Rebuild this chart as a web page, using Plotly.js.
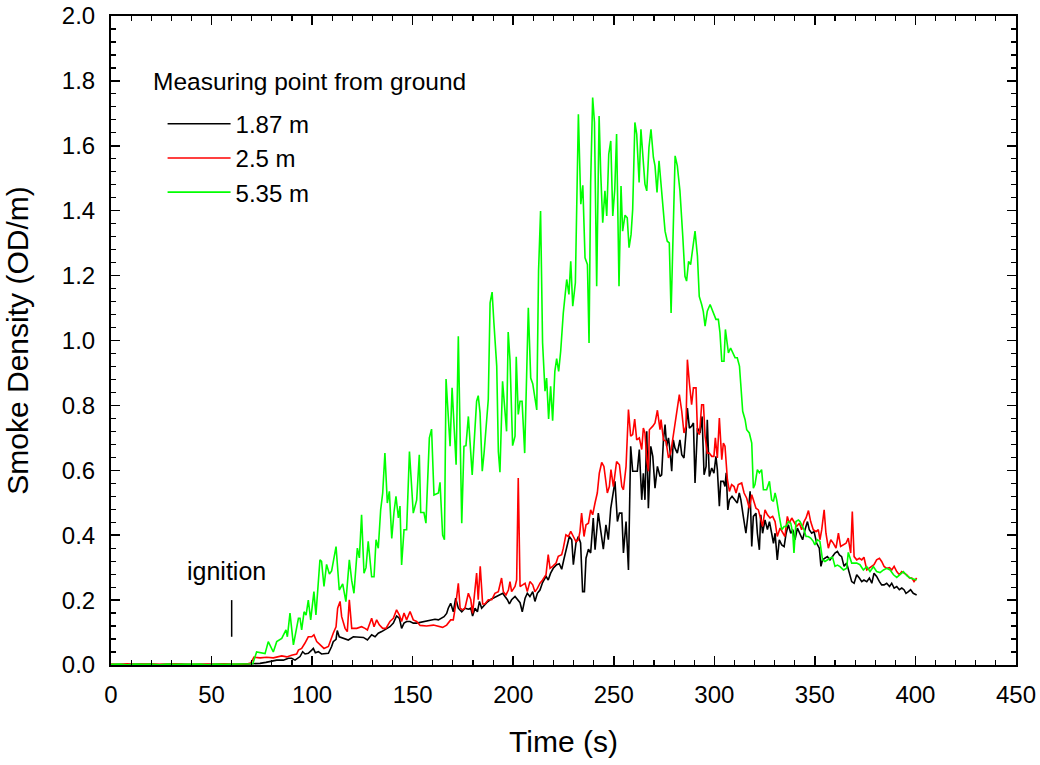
<!DOCTYPE html>
<html>
<head>
<meta charset="utf-8">
<script src="https://cdn.plot.ly/plotly-3.0.1.min.js"></script>
<style>html,body{margin:0;padding:0;background:#fff;}#chart{width:1040px;height:765px;}</style>
</head>
<body>
<div id="chart"></div>
<script>
// Series names
const seriesNames = ["1.87 m", "2.5 m", "5.35 m"];

// 1.87 m (black)
const t187 = [0,5,10,15,20,25,30,35,40,45,50,55,60,65,69.1,72,74.1,77,79.0,82.4,85.7,88.2,89.8,91.5,94.0,95.3,96.5,98.1,99.8,100.6,101.6,103.1,104.7,106.4,108.1,109.7,110.5,111.9,112.5,113.5,115.5,118.0,120.5,123.0,125.5,127.5,129.6,131.3,132.9,134.6,137.1,138.7,140.4,142.0,143.4,144.5,145.7,147.0,148.7,150.3,152.0,153.7,156.1,158.6,161.1,162.8,164.4,165.6,166.9,167.7,168.9,170.2,171.4,172.7,174.4,176.0,177.7,178.9,179.8,181.0,182.2,183.2,184.3,185.5,186.8,188.5,190.1,191.4,193.1,194.8,195.9,197.1,198.1,199.2,200.9,202.0,203.4,204.5,205.9,207.0,208.3,209.7,210.8,212.0,213.3,214.6,216.3,217.4,218.6,219.9,221.6,222.9,224.1,225.2,226.6,227.9,229.1,229.9,231.2,232.4,233.5,234.5,235.4,236.2,237.4,238.5,239.8,240.7,242.3,243.5,244.8,246.1,247.3,248.5,249.5,250.6,251.8,252.8,254.0,254.8,256.1,257.3,258.4,259.4,260.6,261.7,262.7,263.9,264.7,265.5,266.4,267.2,268.4,269.4,270.5,271.7,273.0,273.8,274.7,275.5,276.3,277.2,278.0,278.8,279.6,280.4,281.6,282.9,283.8,284.9,285.9,286.6,287.6,288.7,289.6,290.4,291.6,292.9,293.9,294.9,295.9,296.5,297.5,298.7,299.8,300.8,301.5,302.5,303.2,304.5,305.3,305.9,306.7,307.5,308.8,310.3,311.4,312.4,313.2,314.4,315.7,316.9,317.8,318.6,319.4,320.7,321.4,322.4,323.1,324.0,325.2,326.4,327.4,328.5,329.4,330.2,331.3,332.3,333.5,334.7,335.7,336.8,338.0,339.0,340.1,341.3,342.6,343.9,345.1,346.3,347.2,348.4,349.6,350.9,352.2,353.0,353.8,355.0,356.2,357.5,358.8,360.0,361.2,362.2,363.3,364.5,365.8,367.1,368.3,369.5,370.8,372.1,373.3,374.4,375.8,377.1,378.3,379.4,380.7,382.1,383.2,384.4,385.7,387.1,388.2,389.4,390.7,392.0,393.2,394.3,395.3,396.5,397.6,398.9,400.6];
const d187 = [0.001,0.002,0.001,0.002,0.001,0.002,0.001,0.002,0.001,0.002,0.001,0.002,0.001,0.002,0.002,0.004,0.005,0.008,0.010,0.015,0.015,0.021,0.021,0.015,0.026,0.041,0.034,0.036,0.046,0.051,0.038,0.041,0.034,0.036,0.036,0.057,0.072,0.079,0.106,0.087,0.082,0.077,0.087,0.087,0.085,0.077,0.093,0.087,0.098,0.103,0.113,0.118,0.129,0.151,0.144,0.113,0.129,0.134,0.134,0.129,0.129,0.131,0.134,0.139,0.141,0.139,0.144,0.149,0.159,0.175,0.190,0.164,0.206,0.175,0.164,0.175,0.172,0.175,0.151,0.175,0.164,0.196,0.175,0.185,0.192,0.201,0.206,0.211,0.216,0.221,0.211,0.201,0.188,0.201,0.211,0.203,0.192,0.164,0.206,0.221,0.211,0.226,0.196,0.221,0.231,0.254,0.273,0.262,0.283,0.298,0.309,0.312,0.295,0.326,0.365,0.396,0.386,0.309,0.376,0.396,0.376,0.226,0.226,0.329,0.357,0.345,0.453,0.355,0.468,0.417,0.357,0.432,0.386,0.483,0.519,0.566,0.442,0.468,0.468,0.345,0.442,0.293,0.674,0.597,0.597,0.597,0.664,0.509,0.591,0.509,0.720,0.483,0.674,0.643,0.545,0.612,0.581,0.586,0.694,0.741,0.674,0.700,0.658,0.597,0.694,0.669,0.653,0.694,0.648,0.638,0.715,0.792,0.730,0.736,0.746,0.561,0.730,0.715,0.766,0.586,0.612,0.756,0.581,0.607,0.591,0.643,0.602,0.489,0.566,0.566,0.550,0.592,0.478,0.509,0.520,0.509,0.499,0.530,0.509,0.458,0.406,0.473,0.535,0.365,0.458,0.468,0.406,0.355,0.463,0.406,0.447,0.417,0.442,0.406,0.375,0.406,0.324,0.386,0.370,0.365,0.406,0.432,0.406,0.417,0.386,0.422,0.406,0.386,0.417,0.442,0.417,0.406,0.411,0.375,0.360,0.304,0.324,0.329,0.334,0.324,0.334,0.345,0.350,0.339,0.334,0.304,0.314,0.288,0.257,0.252,0.278,0.268,0.257,0.262,0.257,0.268,0.252,0.283,0.273,0.257,0.247,0.247,0.252,0.242,0.252,0.237,0.242,0.232,0.237,0.232,0.221,0.226,0.232,0.221,0.216];

// 2.5 m (red)
const t25 = [0,4,8,12,16,20,24,28,32,36,40,44,48,52,56,60,64,68,69.5,71.1,74.1,77.4,80.7,84.9,87.4,89.8,92.3,93.2,94.8,96.4,98.1,99.8,100.9,102.3,103.9,105.9,108.1,108.9,110.5,111.9,112.7,113.9,114.7,116.4,117.5,118.5,119.7,122.2,124.6,126.3,127.5,129.6,130.8,132.1,133.4,135.1,136.7,138.7,140.4,142.0,143.4,144.5,145.7,147.0,148.7,150.3,152.0,153.7,156.9,160.3,162.8,164.9,166.9,168.9,170.2,171.5,172.7,173.6,174.9,176.0,177.7,178.9,179.8,181.0,181.8,182.6,183.6,184.8,185.9,187.6,189.3,190.9,192.6,194.2,195.1,196.4,197.6,198.4,199.2,200.9,201.7,202.5,203.4,204.7,205.9,207.0,208.3,209.7,210.8,212.0,213.3,214.6,216.3,217.4,218.3,219.6,221.3,222.4,224.1,224.9,226.2,227.4,228.6,229.9,231.2,232.4,233.2,234.0,235.2,236.2,237.4,238.5,239.5,240.7,241.8,242.8,244.0,245.1,246.8,247.8,248.6,249.8,251.4,252.8,254.0,254.8,256.1,257.3,258.4,259.4,260.4,261.4,262.7,263.9,264.7,265.5,266.4,267.2,267.7,269.4,270.5,271.7,273.0,273.5,274.7,276.0,277.2,278.3,279.6,281.0,282.6,283.8,284.9,285.9,286.6,287.6,288.7,289.6,290.9,291.6,292.6,293.7,294.6,295.4,296.5,297.5,298.7,299.8,300.5,301.5,302.5,303.7,304.5,305.3,306.5,307.5,308.6,309.8,310.8,311.9,313.6,314.8,316.1,317.4,318.6,319.4,320.7,321.9,322.7,324.0,325.2,326.4,327.7,329.0,330.2,331.3,332.7,334.0,335.1,336.3,337.3,338.5,339.6,340.9,342.3,343.4,344.6,345.6,346.8,347.9,349.2,350.6,351.7,352.5,353.4,354.6,355.5,356.7,357.9,359.2,360.5,361.7,362.8,364.2,365.5,366.6,367.8,368.6,369.5,370.8,372.1,373.3,374.4,375.8,377.1,378.3,379.4,380.7,382.1,383.2,384.4,385.7,387.1,388.2,389.4,390.7,392.0,393.2,394.3,395.7,397.0,398.2,399.3,400.6];
const d25 = [0.003,0.002,0.004,0.002,0.003,0.004,0.002,0.003,0.004,0.002,0.003,0.004,0.003,0.002,0.004,0.003,0.002,0.004,0.006,0.024,0.022,0.024,0.022,0.028,0.025,0.030,0.034,0.046,0.051,0.067,0.087,0.087,0.093,0.072,0.062,0.051,0.057,0.072,0.098,0.118,0.175,0.196,0.149,0.113,0.103,0.201,0.113,0.113,0.118,0.113,0.108,0.144,0.118,0.139,0.124,0.113,0.113,0.134,0.144,0.170,0.154,0.134,0.160,0.139,0.165,0.139,0.134,0.122,0.120,0.123,0.120,0.116,0.123,0.139,0.139,0.190,0.252,0.175,0.170,0.175,0.221,0.201,0.159,0.226,0.283,0.201,0.304,0.188,0.188,0.201,0.201,0.221,0.226,0.268,0.226,0.216,0.231,0.257,0.226,0.242,0.262,0.576,0.242,0.247,0.252,0.226,0.257,0.247,0.226,0.236,0.252,0.262,0.278,0.340,0.298,0.304,0.314,0.335,0.340,0.360,0.401,0.396,0.412,0.396,0.380,0.386,0.412,0.468,0.396,0.432,0.437,0.478,0.463,0.500,0.530,0.591,0.624,0.612,0.530,0.550,0.602,0.550,0.627,0.617,0.550,0.540,0.612,0.787,0.705,0.710,0.758,0.694,0.700,0.664,0.730,0.715,0.633,0.597,0.725,0.736,0.746,0.785,0.725,0.756,0.694,0.689,0.638,0.653,0.705,0.766,0.833,0.782,0.715,0.736,0.941,0.869,0.802,0.854,0.854,0.720,0.710,0.802,0.802,0.705,0.653,0.653,0.643,0.643,0.700,0.638,0.761,0.633,0.684,0.674,0.571,0.535,0.556,0.550,0.530,0.556,0.561,0.530,0.514,0.483,0.525,0.509,0.483,0.478,0.458,0.427,0.478,0.463,0.453,0.458,0.442,0.396,0.422,0.406,0.396,0.458,0.437,0.453,0.442,0.427,0.437,0.417,0.442,0.453,0.476,0.442,0.417,0.411,0.417,0.386,0.417,0.478,0.406,0.360,0.386,0.375,0.360,0.406,0.365,0.370,0.375,0.391,0.345,0.473,0.334,0.324,0.329,0.324,0.332,0.293,0.298,0.304,0.309,0.324,0.329,0.319,0.304,0.298,0.300,0.293,0.304,0.288,0.278,0.288,0.283,0.278,0.268,0.268,0.257,0.268];

// 5.35 m (green)
const t535 = [0,4,8,12,16,20,24,28,32,36,40,44,48,52,56,60,64,68,70.5,72.4,76.6,78.2,80.7,82.4,84.9,87.0,87.7,89.0,90.7,93.2,94.0,94.8,96.0,97.0,98.1,99.3,100.9,101.9,103.9,104.7,105.9,107.2,108.6,109.7,111.9,113.5,115.2,116.8,118.5,119.7,120.8,122.5,123.5,124.6,125.8,126.8,127.9,129.6,130.8,131.8,132.9,134.1,135.1,136.2,137.4,138.4,139.6,140.7,141.7,142.9,143.7,144.5,145.7,147.0,148.4,150.3,152.0,153.3,154.0,155.6,156.6,158.3,159.4,160.6,162.8,163.6,164.9,165.8,166.6,167.2,168.6,169.6,171.6,172.7,174.4,175.5,176.5,177.7,179.6,181.8,182.6,183.5,184.6,185.5,186.8,187.6,188.5,189.5,190.4,191.8,192.6,193.4,194.7,195.9,196.7,197.5,198.4,199.7,200.9,201.5,202.5,203.4,204.4,205.7,207.5,208.7,209.7,211.7,212.6,213.6,214.6,215.8,216.6,217.6,218.6,219.6,220.7,221.6,222.6,223.6,224.9,226.6,227.7,228.6,229.6,230.9,231.6,232.4,233.6,234.6,235.7,236.9,237.7,238.5,239.5,240.4,241.5,242.7,243.5,244.5,245.6,246.5,247.5,248.5,249.5,250.5,251.4,252.6,253.6,254.4,255.6,256.7,257.6,258.6,259.4,260.5,261.4,262.6,263.5,264.7,265.5,266.4,267.5,268.5,269.7,270.5,271.5,272.5,273.3,274.7,275.5,276.6,277.6,278.5,279.3,280.5,281.6,282.9,284.3,285.4,286.2,287.2,288.2,289.2,290.4,291.6,292.5,293.7,294.5,295.4,296.5,297.9,299.2,299.8,300.8,302.0,302.8,303.7,304.8,305.5,307.0,308.1,309.1,310.3,311.4,312.5,313.1,314.1,315.3,316.1,317.4,318.6,319.4,320.2,321.4,322.4,323.5,324.4,326.0,327.4,328.5,329.4,330.2,331.0,332.3,333.5,334.7,335.7,336.8,338.0,339.0,339.6,340.6,341.8,342.6,343.4,344.6,345.6,346.7,347.9,349.2,350.0,351.2,352.5,353.8,355.0,356.2,357.5,358.8,360.0,361.2,362.5,364.2,365.8,366.6,368.3,370.8,372.4,374.1,375.8,377.4,379.1,380.7,382.4,384.1,385.7,387.4,389.1,390.7,392.4,394.0,395.7,397.4,399.0,400.6];
const d535 = [0.002,0.003,0.001,0.003,0.002,0.003,0.001,0.003,0.002,0.003,0.002,0.003,0.001,0.003,0.002,0.003,0.002,0.003,0.004,0.040,0.035,0.072,0.040,0.072,0.082,0.108,0.087,0.160,0.062,0.144,0.144,0.108,0.164,0.154,0.200,0.139,0.226,0.154,0.324,0.319,0.242,0.310,0.280,0.290,0.365,0.231,0.250,0.195,0.324,0.260,0.221,0.360,0.330,0.463,0.283,0.300,0.381,0.272,0.272,0.386,0.360,0.479,0.530,0.653,0.499,0.535,0.390,0.470,0.520,0.453,0.490,0.308,0.417,0.417,0.658,0.468,0.509,0.648,0.470,0.470,0.437,0.700,0.727,0.524,0.530,0.563,0.400,0.386,0.881,0.818,0.674,0.854,0.617,1.013,0.437,0.674,0.676,0.766,0.586,0.813,0.830,0.777,0.597,0.653,0.756,0.818,1.116,1.149,1.054,0.921,0.658,0.594,0.874,0.777,0.720,1.026,0.941,0.676,0.705,0.950,0.772,0.813,0.813,0.653,1.101,0.884,0.867,0.786,1.214,1.399,0.993,0.844,0.884,0.758,0.859,0.753,0.905,0.944,0.905,0.967,1.085,1.188,1.142,1.244,1.106,1.178,1.497,1.697,1.420,1.478,1.255,1.234,0.992,1.487,1.749,1.672,1.167,1.692,1.517,1.363,1.461,1.384,1.574,1.615,1.384,1.466,1.636,1.167,1.476,1.337,1.386,1.378,1.286,1.327,1.404,1.672,1.636,1.487,1.651,1.533,1.482,1.461,1.595,1.651,1.564,1.538,1.456,1.554,1.497,1.373,1.337,1.306,1.301,1.085,1.271,1.569,1.538,1.461,1.322,1.198,1.183,1.244,1.234,1.281,1.337,1.260,1.136,1.111,1.090,1.044,1.090,1.111,1.090,1.085,1.065,1.065,1.024,0.936,0.936,1.034,0.962,0.977,0.962,0.947,0.947,0.921,0.869,0.782,0.756,0.725,0.715,0.684,0.545,0.556,0.602,0.592,0.602,0.540,0.540,0.566,0.509,0.504,0.530,0.509,0.458,0.417,0.427,0.427,0.442,0.437,0.406,0.345,0.442,0.447,0.442,0.432,0.417,0.396,0.396,0.391,0.381,0.370,0.386,0.381,0.324,0.319,0.324,0.329,0.332,0.304,0.308,0.303,0.293,0.298,0.347,0.314,0.314,0.309,0.293,0.303,0.288,0.303,0.288,0.285,0.293,0.298,0.293,0.278,0.270,0.278,0.288,0.275,0.268,0.265,0.262];

const legendTitle = "Measuring point from ground";
const xTitle = "Time (s)";
const yTitle = "Smoke Density (OD/m)";
const ignitionLabel = "ignition";
const ignitionTime = 60;

const FONT = "Liberation Sans, Arial, Helvetica, sans-serif";

const traces = [
  {x: t187, y: d187, name: seriesNames[0], type: "scatter", mode: "lines", line: {color: "#000000", width: 1.6}},
  {x: t25, y: d25, name: seriesNames[1], type: "scatter", mode: "lines", line: {color: "#ff0000", width: 1.6}},
  {x: t535, y: d535, name: seriesNames[2], type: "scatter", mode: "lines", line: {color: "#00ff00", width: 1.6}}
];

const axisCommon = {
  showline: true, linecolor: "#000", linewidth: 2, mirror: "allticks",
  ticks: "inside", ticklen: 9, tickwidth: 1.5, tickcolor: "#000",
  showgrid: false, zeroline: false,
  tickfont: {family: FONT, size: 24, color: "#000"}
};

const layout = {
  width: 1040, height: 765,
  margin: {l: 111, r: 24, t: 16, b: 100},
  paper_bgcolor: "#fff", plot_bgcolor: "#fff",
  font: {family: FONT, color: "#000"},
  showlegend: true,
  legend: {
    x: 0.057, y: 0.868, xanchor: "left", yanchor: "top",
    bgcolor: "rgba(0,0,0,0)", borderwidth: 0,
    font: {family: FONT, size: 24, color: "#000"},
    itemwidth: 63, tracegroupgap: 0
  },
  xaxis: Object.assign({}, axisCommon, {
    range: [0, 450], dtick: 50, tick0: 0,
    ticklabelstandoff: 7,
    minor: {ticks: "inside", ticklen: 5, tickwidth: 1.2, dtick: 10, tickcolor: "#000"},
    title: {text: xTitle, font: {family: FONT, size: 30, color: "#000"}, standoff: 24}
  }),
  yaxis: Object.assign({}, axisCommon, {
    range: [0, 2], dtick: 0.2, tick0: 0, tickformat: ".1f",
    ticklabelstandoff: 9,
    minor: {ticks: "inside", ticklen: 5, tickwidth: 1.2, dtick: 0.04, tickcolor: "#000"},
    title: {text: yTitle, font: {family: FONT, size: 30, color: "#000"}, standoff: 24}
  }),
  annotations: [
    {xref: "paper", yref: "paper", x: (151 - 111) / 905, y: (665 - 82) / 649, xanchor: "left", yanchor: "middle",
     text: legendTitle, showarrow: false, font: {family: FONT, size: 24.5, color: "#000"}},
    {xref: "x", yref: "y", x: 57.5, y: 0.29, xanchor: "center", yanchor: "middle",
     text: ignitionLabel, showarrow: false, font: {family: FONT, size: 25, color: "#000"}}
  ],
  shapes: [
    {type: "line", xref: "x", yref: "y", x0: ignitionTime, x1: ignitionTime, y0: 0.087, y1: 0.2,
     line: {color: "#000", width: 1.5}}
  ]
};

Plotly.newPlot("chart", traces, layout, {displayModeBar: false, staticPlot: true});
</script>
</body>
</html>
